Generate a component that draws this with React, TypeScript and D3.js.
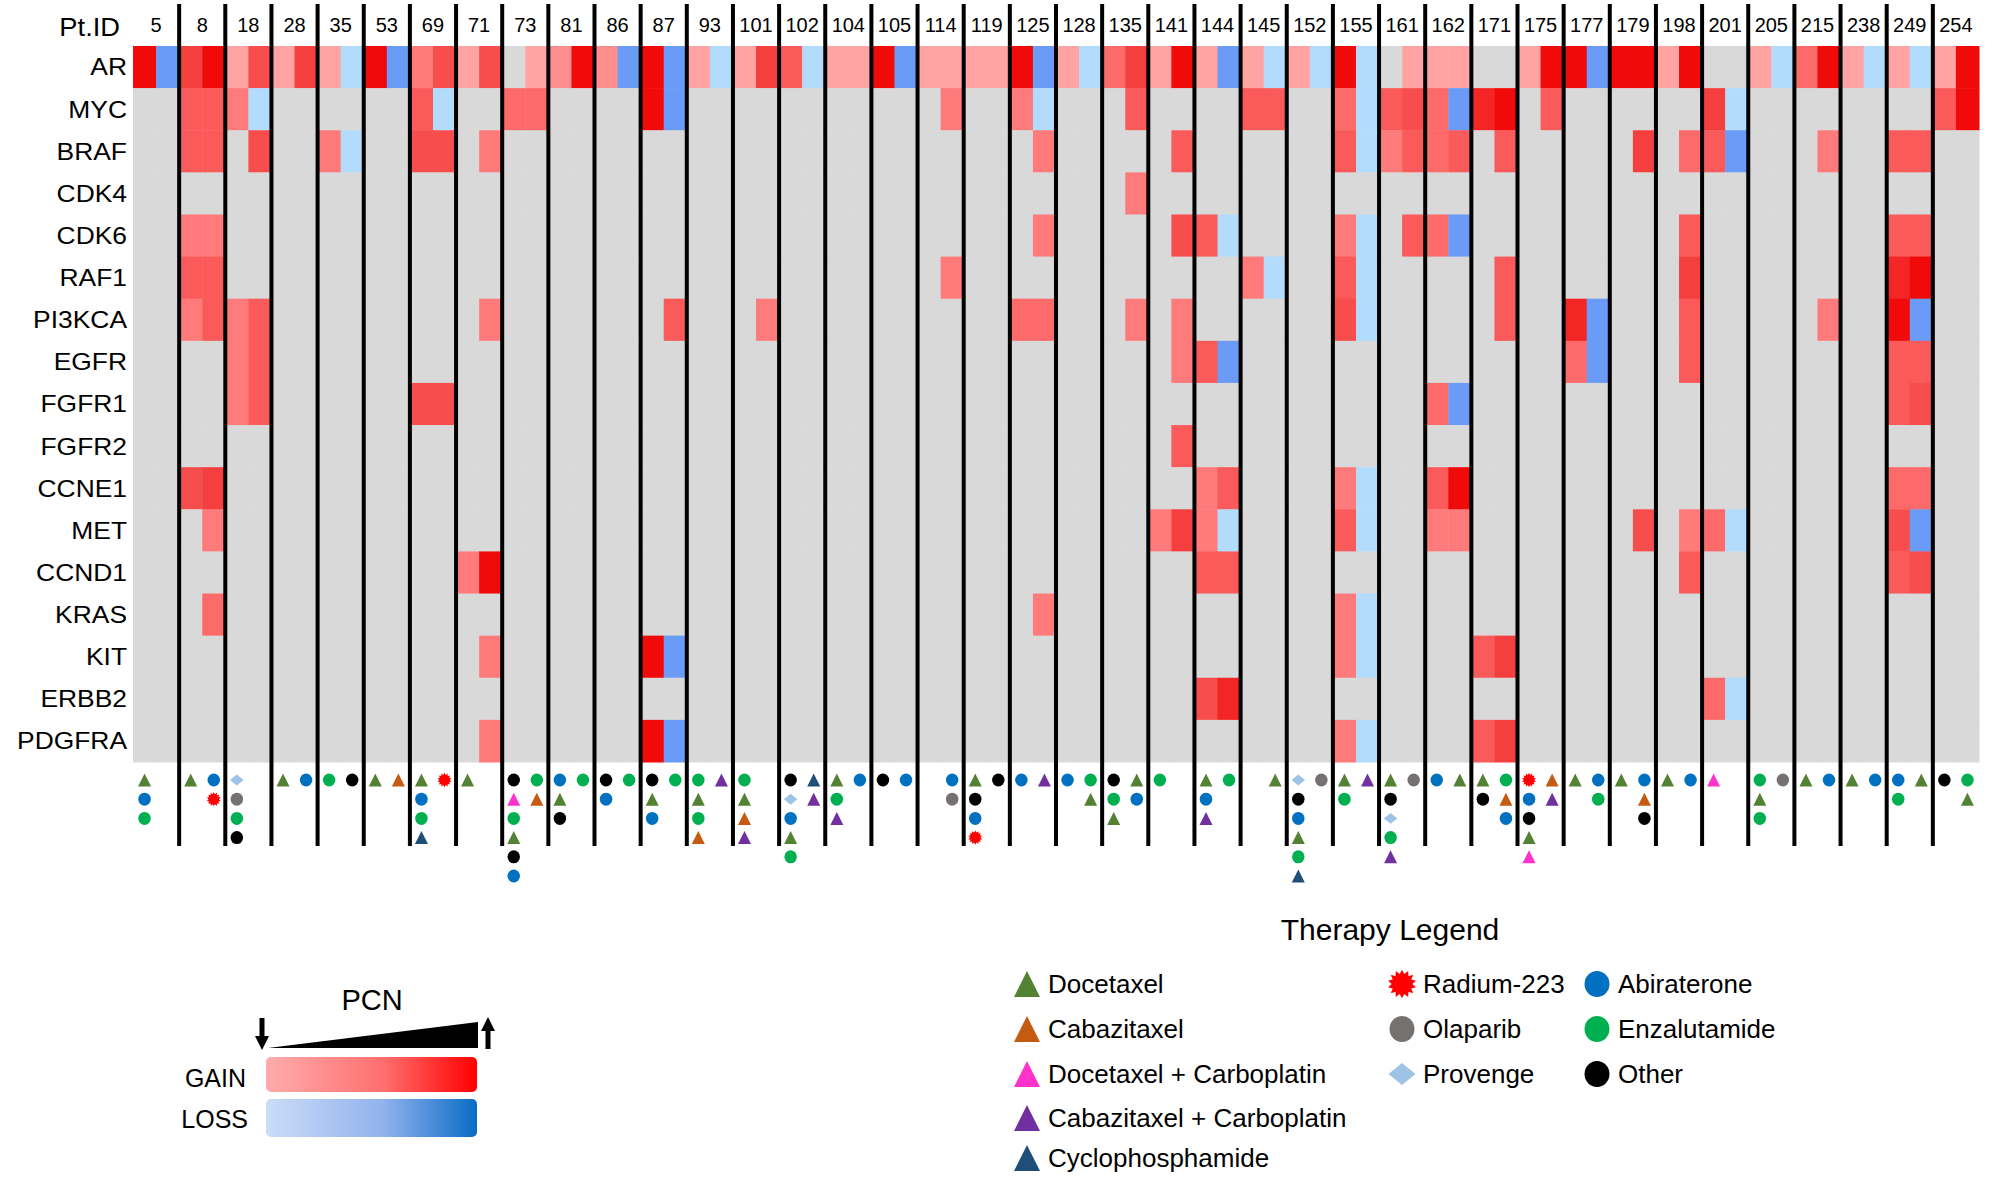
import React from "react";
import * as d3 from "d3";

// patient columns, each split into two sub-cells (left / right)
const PATIENTS = [
  "5", "8", "18", "28", "35", "53", "69", "71", "73", "81",
  "86", "87", "93", "101", "102", "104", "105", "114", "119", "125",
  "128", "135", "141", "144", "145", "152", "155", "161", "162", "171",
  "175", "177", "179", "198", "201", "205", "215", "238", "249", "254",
];

const GENES = [
  "AR", "MYC", "BRAF", "CDK4", "CDK6", "RAF1", "PI3KCA", "EGFR", "FGFR1",
  "FGFR2", "CCNE1", "MET", "CCND1", "KRAS", "KIT", "ERBB2", "PDGFRA",
];

// copy number level per sub-cell: 1..5 gain, -1..-2 loss, 0 none
// two numbers per patient (left, right)
const AR = [5,-2, 4,5, 1,3.5, 1,4, 1,-1, 5,-2, 2,3.5, 1,3.5, 0,1, 1.5,5,
  1.5,-2, 5,-2, 1,-1, 1,4, 3,-1, 1,1, 5,-2, 1,1, 1,1, 5,-2,
  1,-1, 2.5,4, 1,5, 1,-2, 1,-1, 1,-1, 5,-1, 0,1, 1,1, 0,0,
  1,5, 5,-2, 5,5, 1,5, 0,0, 1,-1, 2.5,5, 1,-1, 1,-1, 1,5];
const MYC = [0,0, 3,3, 2,-1, 0,0, 0,0, 0,0, 3,-1, 0,0, 2.5,2.5, 0,0,
  0,0, 5,-2, 0,0, 0,0, 0,0, 0,0, 0,0, 0,2, 0,0, 2,-1,
  0,0, 0,3, 0,0, 0,0, 3,3, 0,0, 2.5,-1, 3,3.5, 2.5,-2, 4.5,5,
  0,3, 0,0, 0,0, 0,0, 4,-1, 0,0, 0,0, 0,0, 0,0, 3,5];
const BRAF = [0,0, 3,3, 0,3.5, 0,0, 2,-1, 0,0, 3.5,3.5, 0,2, 0,0, 0,0,
  0,0, 0,0, 0,0, 0,0, 0,0, 0,0, 0,0, 0,0, 0,0, 0,2,
  0,0, 0,0, 0,3, 0,0, 0,0, 0,0, 3,-1, 2,3, 2.5,3, 0,3,
  0,0, 0,0, 0,4, 0,2.5, 3,-2, 0,0, 0,2, 0,0, 3,3, 0,0];
const CDK4 = [0,0, 0,0, 0,0, 0,0, 0,0, 0,0, 0,0, 0,0, 0,0, 0,0,
  0,0, 0,0, 0,0, 0,0, 0,0, 0,0, 0,0, 0,0, 0,0, 0,0,
  0,0, 0,2, 0,0, 0,0, 0,0, 0,0, 0,0, 0,0, 0,0, 0,0,
  0,0, 0,0, 0,0, 0,0, 0,0, 0,0, 0,0, 0,0, 0,0, 0,0];
const CDK6 = [0,0, 2,2, 0,0, 0,0, 0,0, 0,0, 0,0, 0,0, 0,0, 0,0,
  0,0, 0,0, 0,0, 0,0, 0,0, 0,0, 0,0, 0,0, 0,0, 0,2,
  0,0, 0,0, 0,3.5, 3,-1, 0,0, 0,0, 2,-1, 0,3, 2.5,-2, 0,0,
  0,0, 0,0, 0,0, 0,3, 0,0, 0,0, 0,0, 0,0, 3,3, 0,0];
const RAF1 = [0,0, 3,3, 0,0, 0,0, 0,0, 0,0, 0,0, 0,0, 0,0, 0,0,
  0,0, 0,0, 0,0, 0,0, 0,0, 0,0, 0,0, 0,2, 0,0, 0,0,
  0,0, 0,0, 0,0, 0,0, 2,-1, 0,0, 3,-1, 0,0, 0,0, 0,3,
  0,0, 0,0, 0,0, 0,4, 0,0, 0,0, 0,0, 0,0, 4.5,5, 0,0];
const PI3KCA = [0,0, 2,3, 2,3, 0,0, 0,0, 0,0, 0,0, 0,2, 0,0, 0,0,
  0,0, 0,3, 0,0, 0,2, 0,0, 0,0, 0,0, 0,0, 0,0, 2.5,2.5,
  0,0, 0,2, 0,2, 0,0, 0,0, 0,0, 3.5,-1, 0,0, 0,0, 0,3,
  0,0, 4.5,-2, 0,0, 0,3, 0,0, 0,0, 0,2, 0,0, 5,-2, 0,0];
const EGFR = [0,0, 0,0, 2,3, 0,0, 0,0, 0,0, 0,0, 0,0, 0,0, 0,0,
  0,0, 0,0, 0,0, 0,0, 0,0, 0,0, 0,0, 0,0, 0,0, 0,0,
  0,0, 0,0, 0,2, 3,-2, 0,0, 0,0, 0,0, 0,0, 0,0, 0,0,
  0,0, 2.5,-2, 0,0, 0,3, 0,0, 0,0, 0,0, 0,0, 3,3, 0,0];
const FGFR1 = [0,0, 0,0, 2,3, 0,0, 0,0, 0,0, 3.5,3.5, 0,0, 0,0, 0,0,
  0,0, 0,0, 0,0, 0,0, 0,0, 0,0, 0,0, 0,0, 0,0, 0,0,
  0,0, 0,0, 0,0, 0,0, 0,0, 0,0, 0,0, 0,0, 2.5,-2, 0,0,
  0,0, 0,0, 0,0, 0,0, 0,0, 0,0, 0,0, 0,0, 3,3.5, 0,0];
const FGFR2 = [0,0, 0,0, 0,0, 0,0, 0,0, 0,0, 0,0, 0,0, 0,0, 0,0,
  0,0, 0,0, 0,0, 0,0, 0,0, 0,0, 0,0, 0,0, 0,0, 0,0,
  0,0, 0,0, 0,3, 0,0, 0,0, 0,0, 0,0, 0,0, 0,0, 0,0,
  0,0, 0,0, 0,0, 0,0, 0,0, 0,0, 0,0, 0,0, 0,0, 0,0];
const CCNE1 = [0,0, 3.5,4, 0,0, 0,0, 0,0, 0,0, 0,0, 0,0, 0,0, 0,0,
  0,0, 0,0, 0,0, 0,0, 0,0, 0,0, 0,0, 0,0, 0,0, 0,0,
  0,0, 0,0, 0,0, 2,3, 0,0, 0,0, 2,-1, 0,0, 3,5, 0,0,
  0,0, 0,0, 0,0, 0,0, 0,0, 0,0, 0,0, 0,0, 2.5,2.5, 0,0];
const MET = [0,0, 0,2, 0,0, 0,0, 0,0, 0,0, 0,0, 0,0, 0,0, 0,0,
  0,0, 0,0, 0,0, 0,0, 0,0, 0,0, 0,0, 0,0, 0,0, 0,0,
  0,0, 0,0, 2,4, 2,-1, 0,0, 0,0, 3,-1, 0,0, 2,2, 0,0,
  0,0, 0,0, 0,3.5, 0,2, 2.5,-1, 0,0, 0,0, 0,0, 3.5,-2, 0,0];
const CCND1 = [0,0, 0,0, 0,0, 0,0, 0,0, 0,0, 0,0, 2,5, 0,0, 0,0,
  0,0, 0,0, 0,0, 0,0, 0,0, 0,0, 0,0, 0,0, 0,0, 0,0,
  0,0, 0,0, 0,0, 3,3, 0,0, 0,0, 0,0, 0,0, 0,0, 0,0,
  0,0, 0,0, 0,0, 0,3, 0,0, 0,0, 0,0, 0,0, 3,3.5, 0,0];
const KRAS = [0,0, 0,2.5, 0,0, 0,0, 0,0, 0,0, 0,0, 0,0, 0,0, 0,0,
  0,0, 0,0, 0,0, 0,0, 0,0, 0,0, 0,0, 0,0, 0,0, 0,2,
  0,0, 0,0, 0,0, 0,0, 0,0, 0,0, 2,-1, 0,0, 0,0, 0,0,
  0,0, 0,0, 0,0, 0,0, 0,0, 0,0, 0,0, 0,0, 0,0, 0,0];
const KIT = [0,0, 0,0, 0,0, 0,0, 0,0, 0,0, 0,0, 0,2, 0,0, 0,0,
  0,0, 5,-2, 0,0, 0,0, 0,0, 0,0, 0,0, 0,0, 0,0, 0,0,
  0,0, 0,0, 0,0, 0,0, 0,0, 0,0, 2,-1, 0,0, 0,0, 3,4,
  0,0, 0,0, 0,0, 0,0, 0,0, 0,0, 0,0, 0,0, 0,0, 0,0];
const ERBB2 = [0,0, 0,0, 0,0, 0,0, 0,0, 0,0, 0,0, 0,0, 0,0, 0,0,
  0,0, 0,0, 0,0, 0,0, 0,0, 0,0, 0,0, 0,0, 0,0, 0,0,
  0,0, 0,0, 0,0, 3.5,4.5, 0,0, 0,0, 0,0, 0,0, 0,0, 0,0,
  0,0, 0,0, 0,0, 0,0, 2.5,-1, 0,0, 0,0, 0,0, 0,0, 0,0];
const PDGFRA = [0,0, 0,0, 0,0, 0,0, 0,0, 0,0, 0,0, 0,2, 0,0, 0,0,
  0,0, 5,-2, 0,0, 0,0, 0,0, 0,0, 0,0, 0,0, 0,0, 0,0,
  0,0, 0,0, 0,0, 0,0, 0,0, 0,0, 2,-1, 0,0, 0,0, 3,4,
  0,0, 0,0, 0,0, 0,0, 0,0, 0,0, 0,0, 0,0, 0,0, 0,0];

const GENE_VALUES = [AR, MYC, BRAF, CDK4, CDK6, RAF1, PI3KCA, EGFR, FGFR1,
  FGFR2, CCNE1, MET, CCND1, KRAS, KIT, ERBB2, PDGFRA];

// therapies received, listed top to bottom under each sub-column
const THERAPY_LEFT = [
  ["D","A","E"], ["D"], ["P","O","E","X"], ["D"], ["E"], ["D"], ["D","A","E","Y"], ["D"],
  ["X","DC","E","D","X","A"], ["A","D","X"], ["X","A"], ["X","D","A"], ["E","D","E","C"],
  ["E","D","C","CC"], ["X","P","A","D","E"], ["D","E","CC"], ["X"], [], ["D","X","A","R"],
  ["A"], ["A"], ["X","E","D"], ["E"], ["D","A","CC"], [], ["P","X","A","D","E","Y"],
  ["D","E"], ["D","X","P","E","CC"], ["A"], ["D","X"], ["R","A","X","D","DC"], ["D"],
  ["D"], ["D"], ["DC"], ["E","D","E"], ["D"], ["D"], ["A","E"], ["X"],
];
const THERAPY_RIGHT = [
  [], ["A","R"], [], ["A"], ["X"], ["C"], ["R"], [], ["E","C"], ["E"], ["E"], ["E"], ["CC"],
  [], ["Y","CC"], ["A"], ["A"], ["A","O"], ["X"], ["CC"], ["E","D"], ["D","A"], [], ["E"],
  ["D"], ["O"], ["CC"], ["O"], ["D"], ["E","C","A"], ["C","CC"], ["A","E"], ["A","C","X"],
  ["A"], [], ["O"], ["A"], ["A"], ["D"], ["E","D"],
];

const THERAPIES = [
  { code: "D", label: "Docetaxel", shape: "tri", color: "#548235" },
  { code: "C", label: "Cabazitaxel", shape: "tri", color: "#c55a11" },
  { code: "DC", label: "Docetaxel + Carboplatin", shape: "tri", color: "#ff33cc" },
  { code: "CC", label: "Cabazitaxel + Carboplatin", shape: "tri", color: "#7030a0" },
  { code: "Y", label: "Cyclophosphamide", shape: "tri", color: "#1f4e79" },
  { code: "R", label: "Radium-223", shape: "star", color: "#ff0000" },
  { code: "O", label: "Olaparib", shape: "circle", color: "#767171" },
  { code: "P", label: "Provenge", shape: "diamond", color: "#9dc3e6" },
  { code: "A", label: "Abiraterone", shape: "circle", color: "#0070c0" },
  { code: "E", label: "Enzalutamide", shape: "circle", color: "#00b050" },
  { code: "X", label: "Other", shape: "circle", color: "#000000" },
];
const LEGEND_COLUMNS = [["D", "C", "DC", "CC", "Y"], ["R", "O", "P"], ["A", "E", "X"]];

const W = 1993;
const H = 1177;
const FONT = "'Liberation Sans', Arial, Helvetica, sans-serif";

const x = d3.scaleBand<string>().domain(PATIENTS).range([133, 1979]);
const y = d3.scaleBand<string>().domain(GENES).range([46, 762]);
const half = x.bandwidth() / 2;

const gainColor = d3
  .scaleLinear<string>()
  .domain([1, 2, 3, 4, 5])
  .range(["#ffa3a3", "#ff7a7a", "#fa5a5a", "#f53f3f", "#f00a0a"]);
const lossColor = d3.scaleLinear<string>().domain([-2, -1]).range(["#6a9cf7", "#b3dcfc"]);
const cellColor = (v: number) => (v > 0 ? gainColor(v) : v < 0 ? lossColor(v) : "#d9d9d9");

const byCode = new Map(THERAPIES.map((t) => [t.code, t]));

function starPath(r: number) {
  const pts: [number, number][] = [];
  const n = 14;
  for (let i = 0; i < n * 2; i++) {
    const a = (Math.PI * i) / n - Math.PI / 2;
    const rr = i % 2 === 0 ? r : r * 0.72;
    pts.push([Math.cos(a) * rr, Math.sin(a) * rr]);
  }
  return d3.line()(pts) + "Z";
}

function Marker({ code, cx, cy, s }: { code: string; cx: number; cy: number; s: number }) {
  const t = byCode.get(code)!;
  if (t.shape === "circle")
    return <ellipse cx={cx} cy={cy} rx={s * 0.48} ry={s * 0.5} fill={t.color} />;
  let d = "";
  if (t.shape === "tri") d = `M0,${-s / 2}L${s / 2},${s / 2}L${-s / 2},${s / 2}Z`;
  if (t.shape === "diamond") d = `M0,${-s * 0.42}L${s * 0.52},0L0,${s * 0.42}L${-s * 0.52},0Z`;
  if (t.shape === "star") d = starPath(s * 0.55);
  return <path d={d} transform={`translate(${cx},${cy})`} fill={t.color} />;
}

export default function App() {
  const symTop = 780;
  const symStep = 19.2;

  return (
    <svg
      width={W}
      height={H}
      style={{ position: "absolute", left: 0, top: 0, background: "#fff" }}
      fontFamily={FONT}
    >
      <defs>
        <linearGradient id="gain" x1="0" x2="1" y1="0" y2="0">
          <stop offset="0" stopColor="#ffacac" />
          <stop offset="0.55" stopColor="#ff7070" />
          <stop offset="1" stopColor="#ff0000" />
        </linearGradient>
        <linearGradient id="loss" x1="0" x2="1" y1="0" y2="0">
          <stop offset="0" stopColor="#cadcf7" />
          <stop offset="0.55" stopColor="#93b3ee" />
          <stop offset="1" stopColor="#0a6cc6" />
        </linearGradient>
      </defs>

      {/* heatmap cells */}
      {GENES.map((g, gi) =>
        PATIENTS.map((p, pi) =>
          [0, 1].map((k) => (
            <rect
              key={`${g}-${p}-${k}`}
              x={x(p)! + k * half}
              y={y(g)!}
              width={half + 0.5}
              height={y.bandwidth() + 0.5}
              fill={cellColor(GENE_VALUES[gi][pi * 2 + k])}
            />
          ))
        )
      )}

      {/* column separators */}
      {PATIENTS.slice(1).map((p) => (
        <line key={p} x1={x(p)} x2={x(p)} y1={4} y2={846} stroke="#000" strokeWidth={4} />
      ))}

      {/* header */}
      <text transform="translate(120,36) scale(1.05,1)" fontSize={26} textAnchor="end">
        Pt.ID
      </text>
      {PATIENTS.map((p) => (
        <text key={p} x={x(p)! + half} y={32} fontSize={20} textAnchor="middle">
          {p}
        </text>
      ))}
      {GENES.map((g) => (
        <text
          key={g}
          transform={`translate(127,${y(g)! + y.bandwidth() / 2}) scale(1.1,1)`}
          dy="0.35em"
          fontSize={24}
          textAnchor="end"
        >
          {g}
        </text>
      ))}

      {/* therapy symbols */}
      {PATIENTS.map((p, pi) =>
        [THERAPY_LEFT[pi], THERAPY_RIGHT[pi]].map((list, k) =>
          list.map((code, j) => (
            <Marker
              key={`${p}-${k}-${j}`}
              code={code}
              cx={x(p)! + k * half + half / 2}
              cy={symTop + j * symStep}
              s={13}
            />
          ))
        )
      )}

      {/* PCN legend */}
      <text x={372} y={1010} fontSize={29} textAnchor="middle">
        PCN
      </text>
      <path d="M259.5,1018h5v18h4.5l-7,14l-7,-14h4.5z" fill="#000" />
      <path d="M268,1048L478,1022L478,1048Z" fill="#000" />
      <path d="M485.5,1049v-18h-4.5l7,-14l7,14h-4.5v18z" fill="#000" />
      <rect x={266} y={1057} width={211} height={35} rx={5} fill="url(#gain)" />
      <rect x={266} y={1099} width={211} height={38} rx={5} fill="url(#loss)" />
      <text x={246} y={1087} fontSize={25} textAnchor="end">
        GAIN
      </text>
      <text x={248} y={1128} fontSize={25} textAnchor="end">
        LOSS
      </text>

      {/* therapy legend */}
      <text x={1390} y={940} fontSize={30} textAnchor="middle">
        Therapy Legend
      </text>
      {LEGEND_COLUMNS.map((col, ci) => {
        const mx = [1027, 1402, 1597][ci];
        return col.map((code, ri) => {
          const cy = [984, 1029, 1074, 1118, 1158][ri];
          return (
            <g key={code}>
              <Marker code={code} cx={mx} cy={cy} s={26} />
              <text x={mx + 21} y={cy} dy="0.35em" fontSize={26}>
                {byCode.get(code)!.label}
              </text>
            </g>
          );
        });
      })}
    </svg>
  );
}
